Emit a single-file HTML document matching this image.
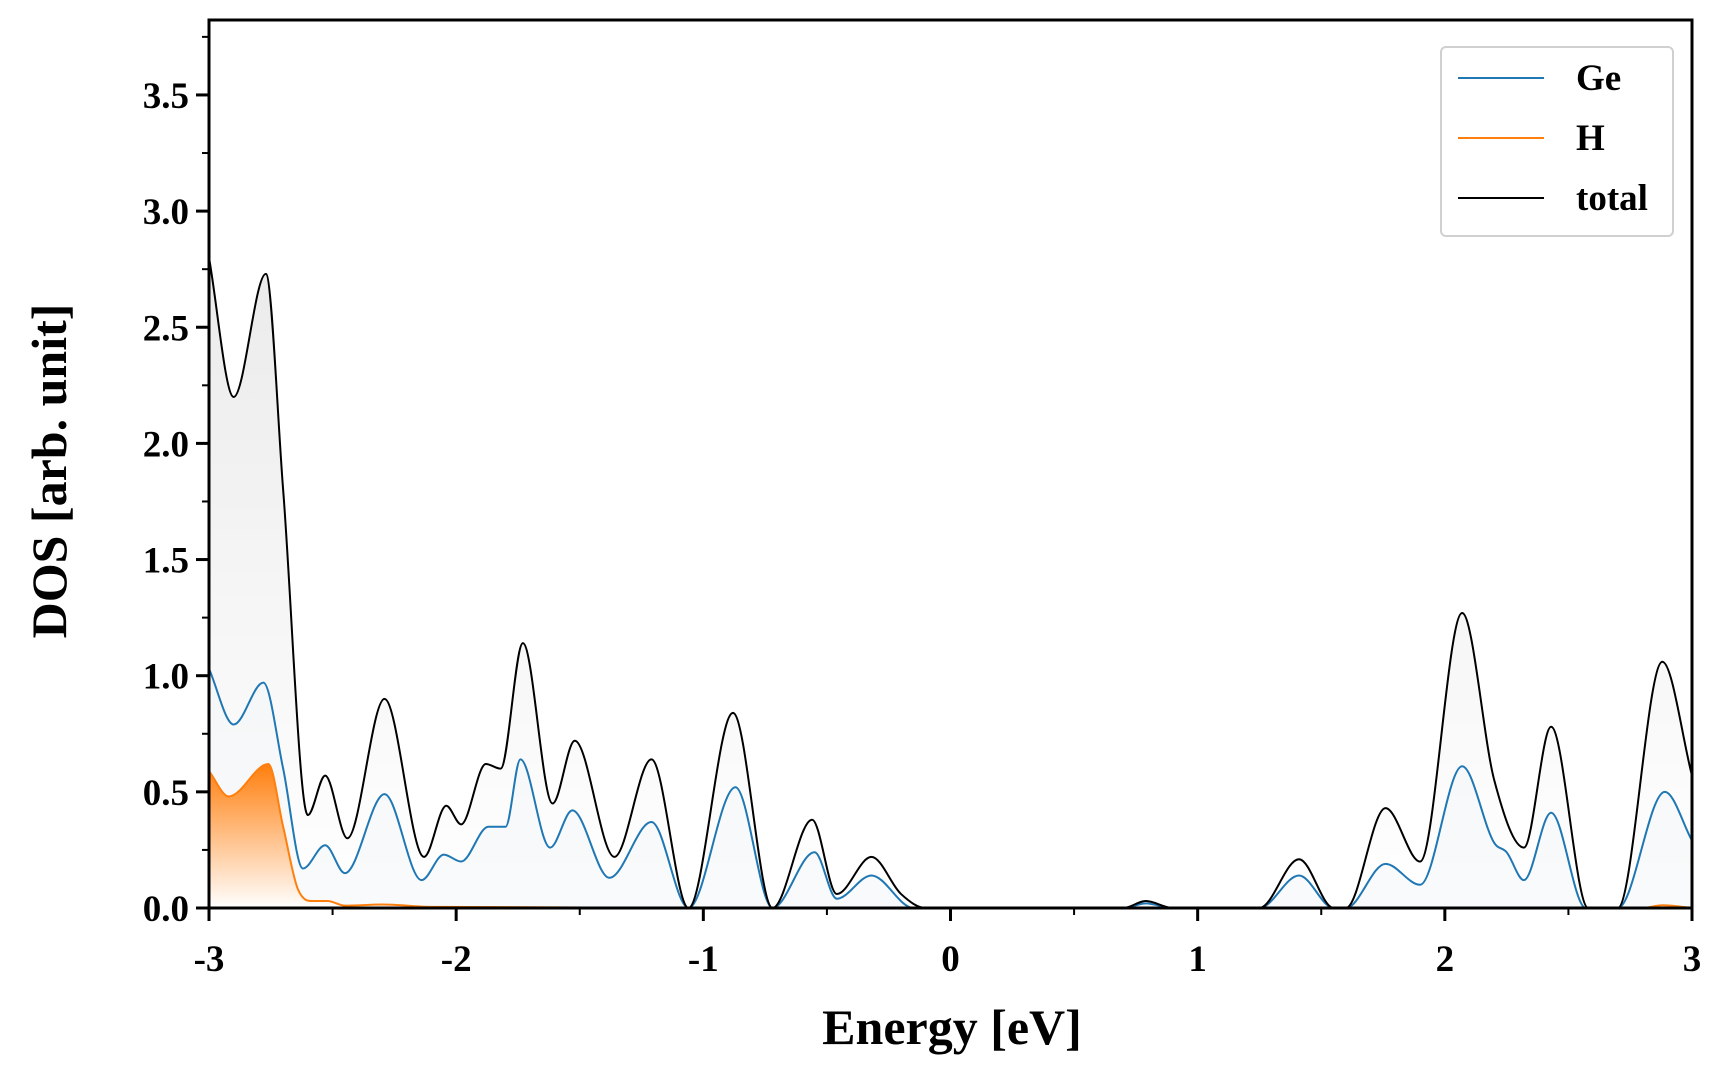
<!DOCTYPE html>
<html><head><meta charset="utf-8"><style>
html,body{margin:0;padding:0;background:#fff}
svg{display:block}
text{font-family:"Liberation Serif",serif;font-weight:bold;fill:#000}
</style></head><body>
<svg id="chart" width="1728" height="1080" viewBox="0 0 1728 1080" xmlns="http://www.w3.org/2000/svg">
<defs>
<linearGradient id="gTot" x1="0" y1="0" x2="0" y2="1"><stop offset="0" stop-color="#e6e6e6"/><stop offset="1" stop-color="#ffffff"/></linearGradient>
<linearGradient id="gH" x1="0" y1="0" x2="0" y2="1"><stop offset="0" stop-color="#ff7f0e"/><stop offset="1" stop-color="#ffffff"/></linearGradient>
<clipPath id="clip"><rect x="209" y="20" width="1483" height="888"/></clipPath>
</defs>
<g id="plot" clip-path="url(#clip)"></g>
<g id="axes"></g>
<text x="952" y="1044" font-size="50" text-anchor="middle">Energy [eV]</text>
<text transform="translate(66,471) rotate(-90)" font-size="50" text-anchor="middle">DOS [arb. unit]</text>
<g>
<rect x="1441" y="47" width="232" height="189" rx="5" fill="#fff" stroke="#d0d0d0" stroke-width="2"/>
<line x1="1458" y1="78" x2="1544" y2="78" stroke="#1f77b4" stroke-width="2"/>
<text x="1576" y="90" font-size="37">Ge</text>
<line x1="1458" y1="138" x2="1544" y2="138" stroke="#ff7f0e" stroke-width="2"/>
<text x="1576" y="150" font-size="37">H</text>
<line x1="1458" y1="198" x2="1544" y2="198" stroke="#000" stroke-width="2"/>
<text x="1576" y="210" font-size="37">total</text>
</g>
</svg>
<script>
const totalE=[-3,-2.9,-2.77,-2.7,-2.6,-2.53,-2.44,-2.29,-2.13,-2.04,-1.98,-1.88,-1.82,-1.73,-1.61,-1.52,-1.36,-1.21,-1.06,-0.88,-0.72,-0.56,-0.46,-0.32,-0.2,-0.1,0.7,0.79,0.9,1.25,1.41,1.55,1.6,1.76,1.9,2.07,2.2,2.32,2.43,2.58,2.7,2.88,3];
const totalV=[2.8,2.2,2.73,1.8,0.4,0.57,0.3,0.9,0.22,0.44,0.36,0.62,0.6,1.14,0.45,0.72,0.22,0.64,0,0.84,0,0.38,0.06,0.22,0.06,0,0,0.03,0,0,0.21,0,0,0.43,0.2,1.27,0.55,0.26,0.78,0,0,1.06,0.57];
const geE=[-3,-2.9,-2.78,-2.7,-2.62,-2.53,-2.45,-2.29,-2.14,-2.05,-1.98,-1.87,-1.8,-1.74,-1.62,-1.53,-1.38,-1.21,-1.06,-0.87,-0.72,-0.55,-0.46,-0.32,-0.15,0.7,0.79,0.9,1.25,1.41,1.55,1.6,1.76,1.9,2.07,2.2,2.25,2.32,2.43,2.57,2.7,2.89,3];
const geV=[1.03,0.79,0.97,0.6,0.17,0.27,0.15,0.49,0.12,0.23,0.2,0.35,0.35,0.64,0.26,0.42,0.13,0.37,0,0.52,0,0.24,0.04,0.14,0,0,0.02,0,0,0.14,0,0,0.19,0.1,0.61,0.28,0.24,0.12,0.41,0,0,0.5,0.29];
const hE=[-3,-2.92,-2.76,-2.7,-2.64,-2.58,-2.52,-2.45,-2.3,-2.1,-1.0,2.8,2.88,3];
const hV=[0.59,0.48,0.62,0.35,0.08,0.03,0.03,0.01,0.015,0.005,0,0,0.012,0];
const xTicks=[-3,-2,-1,0,1,2,3];
const yTicks=[0.0,0.5,1.0,1.5,2.0,2.5,3.0,3.5];

const X0=209,X1=1692,Y0=908,YT=20,YMAX=(908-20)/232.3;
const sx=e=>X0+(e+3)/6*(X1-X0);
const sy=v=>Y0-v*232.3;
const NS="http://www.w3.org/2000/svg";
function mk(tag,attrs,parent){const el=document.createElementNS(NS,tag);for(const k in attrs)el.setAttribute(k,attrs[k]);parent.appendChild(el);return el;}

function monotone(xs,ys){
  const n=xs.length,d=[],m=[];
  for(let i=0;i<n-1;i++)d.push((ys[i+1]-ys[i])/(xs[i+1]-xs[i]));
  m[0]=d[0];m[n-1]=d[n-2];
  for(let i=1;i<n-1;i++){m[i]=(d[i-1]*d[i]<=0)?0:(d[i-1]+d[i])/2;}
  for(let i=0;i<n-1;i++){if(d[i]===0){m[i]=0;m[i+1]=0;continue;}const a=m[i]/d[i],b=m[i+1]/d[i],s=a*a+b*b;if(s>9){const t=3/Math.sqrt(s);m[i]=t*a*d[i];m[i+1]=t*b*d[i];}}
  let p="M"+sx(xs[0])+","+sy(ys[0]);
  for(let i=0;i<n-1;i++){const h=xs[i+1]-xs[i];
    p+=" C"+sx(xs[i]+h/3)+","+sy(ys[i]+m[i]*h/3)+" "+sx(xs[i+1]-h/3)+","+sy(ys[i+1]-m[i+1]*h/3)+" "+sx(xs[i+1])+","+sy(ys[i+1]);}
  return p;
}
const plot=document.getElementById('plot');
const tp=monotone(totalE,totalV),gp=monotone(geE,geV),hp=monotone(hE,hV);
const close=(p,xs)=>p+" L"+sx(xs[xs.length-1])+","+Y0+" L"+sx(xs[0])+","+Y0+" Z";
let f1=mk('path',{d:close(tp,totalE),fill:'url(#gTot)',opacity:'0.8'},plot);


let f2=mk('path',{d:close(gp,geE),fill:'#f2f5f8',opacity:'0.5'},plot);


let f3=mk('path',{d:close(hp,hE),fill:'url(#gH)'},plot);


let l1=mk('path',{d:gp,fill:'none',stroke:'#1f77b4','stroke-width':2},plot);


let l2=mk('path',{d:hp,fill:'none',stroke:'#ff7f0e','stroke-width':2},plot);


let l3=mk('path',{d:tp,fill:'none',stroke:'#000','stroke-width':2},plot);



const ax=document.getElementById('axes');
let fr=mk('rect',{x:X0,y:YT,width:X1-X0,height:Y0-YT,fill:'none',stroke:'#000','stroke-width':3},ax);


xTicks.forEach(t=>{
  let tk=mk('line',{x1:sx(t),x2:sx(t),y1:Y0,y2:Y0+13,stroke:'#000','stroke-width':3},ax);
  
  
  let lb=mk('text',{x:sx(t),y:Y0+63,'font-size':37,'text-anchor':'middle'},ax);
  lb.textContent=String(t);
  
  
});
for(let t=-2.5;t<3;t+=1){
  let tk=mk('line',{x1:sx(t),x2:sx(t),y1:Y0,y2:Y0+7,stroke:'#000','stroke-width':2},ax);
  
  
}
yTicks.forEach(t=>{
  let tk=mk('line',{x1:X0-13,x2:X0,y1:sy(t),y2:sy(t),stroke:'#000','stroke-width':3},ax);
  
  
  let lb=mk('text',{x:X0-20,y:sy(t)+13,'font-size':37,'text-anchor':'end'},ax);
  lb.textContent=t.toFixed(1);
  
  
});
for(let t=0.25;t<YMAX;t+=0.5){
  let tk=mk('line',{x1:X0-7,x2:X0,y1:sy(t),y2:sy(t),stroke:'#000','stroke-width':2},ax);
  
  
}
</script>
</body></html>
